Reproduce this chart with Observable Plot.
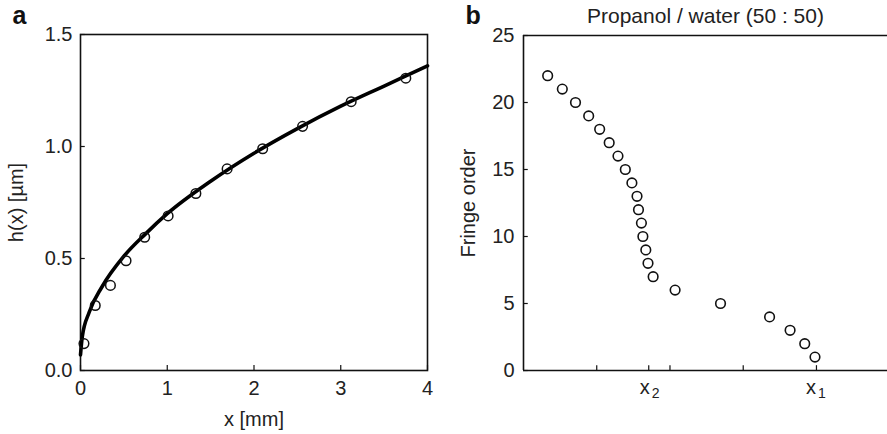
<!DOCTYPE html>
<html>
<head>
<meta charset="utf-8">
<script src="https://cdn.jsdelivr.net/npm/d3@7"></script>
<script src="https://cdn.jsdelivr.net/npm/@observablehq/plot@0.6"></script>
<style>
  html, body { margin: 0; padding: 0; background: #fff; }
  #wrap { position: relative; width: 887px; height: 434px; overflow: hidden; font-family: "Liberation Sans", Arial, sans-serif; }
  #pa, #pb { position: absolute; top: 0; }
  #pa { left: 0; }
  #pb { left: 443px; }
</style>
</head>
<body>
<div id="wrap">
  <div id="pa"></div>
  <div id="pb"></div>
</div>
<script>
// Panel a: measured film thickness h(x)
const aPointX = [0.04, 0.17, 0.345, 0.525, 0.74, 1.01, 1.33, 1.69, 2.10, 2.56, 3.12, 3.75];
const aPointY = [0.12, 0.29, 0.38, 0.49, 0.595, 0.69, 0.79, 0.90, 0.99, 1.09, 1.20, 1.305];
// Panel a: fitted curve
const aCurveX = [0, 0.02, 0.1, 0.25, 0.5, 0.75, 1, 1.5, 2, 2.5, 3, 3.5, 4];
const aCurveY = [0.07, 0.15, 0.26, 0.375, 0.51, 0.61, 0.70, 0.845, 0.97, 1.08, 1.18, 1.27, 1.36];
const aXTicks = [0, 1, 2, 3, 4];
const aYTicks = [0, 0.5, 1.0, 1.5];
const aYTickLabels = ["0.0", "0.5", "1.0", "1.5"];

// Panel b: fringe order vs position
const bFringe = [22, 21, 20, 19, 18, 17, 16, 15, 14, 13, 12, 11, 10, 9, 8, 7, 6, 5, 4, 3, 2, 1];
const bPos = [0.33, 0.53, 0.71, 0.89, 1.04, 1.17, 1.29, 1.39, 1.48, 1.55, 1.57, 1.61, 1.63, 1.67, 1.70, 1.77, 2.07, 2.69, 3.36, 3.64, 3.84, 3.98];
const bXTicks = [1, 1.71, 2, 3, 4];
const bXLabelPos = [1.71, 3.98];
const bXLabelBase = ["x", "x"];
const bXLabelSub = ["2", "1"];
const bYTicks = [0, 5, 10, 15, 20, 25];

const ptsA = aPointX.map((x, i) => ({x, y: aPointY[i]}));
const curveA = aCurveX.map((x, i) => ({x, y: aCurveY[i]}));
const ptsB = bPos.map((x, i) => ({x, y: bFringe[i]}));

const font = "'Liberation Sans', Arial, sans-serif";
const tickColor = "#222";
const fs = 20;

const plotA = Plot.plot({
  width: 443, height: 434,
  marginLeft: 80, marginRight: 16, marginTop: 34, marginBottom: 64,
  style: {fontFamily: font, fontSize: fs + "px", color: tickColor, background: "white", overflow: "visible"},
  x: {domain: [0, 4]},
  y: {domain: [0, 1.5]},
  marks: [
    Plot.frame({stroke: "#111", strokeWidth: 1.6}),
    Plot.axisX(aXTicks, {tickSize: 0, tickPadding: 10, label: "x [mm]", labelAnchor: "center", labelOffset: 55, labelArrow: "none", fill: tickColor}),
    Plot.axisY(aYTicks, {tickSize: 0, tickPadding: 8, tickFormat: (d, i) => aYTickLabels[i], label: "h(x) [µm]", labelAnchor: "center", labelOffset: 72, labelArrow: "none", fill: tickColor}),
    Plot.ruleX(aXTicks, {x: d => d, y1: 0, y2: 0.022, stroke: "#111", strokeWidth: 1.2}),
    Plot.ruleY(aYTicks, {y: d => d, x1: 0, x2: 0.055, stroke: "#111", strokeWidth: 1.2}),
    Plot.line(curveA, {x: "x", y: "y", curve: "monotone-x", stroke: "#000", strokeWidth: 3.6}),
    Plot.dot(ptsA, {x: "x", y: "y", r: 4.8, stroke: "#111", strokeWidth: 1.5, fill: "none"}),
    Plot.text(["a"], {frameAnchor: "top-left", textAnchor: "start", lineAnchor: "bottom", dx: -68, dy: -11, text: d => d, fontWeight: "bold", fontSize: 25, fill: "#111"})
  ]
});
document.getElementById("pa").appendChild(plotA);

const plotB = Plot.plot({
  width: 444, height: 434,
  marginLeft: 80, marginRight: 0, marginTop: 35, marginBottom: 64,
  style: {fontFamily: font, fontSize: fs + "px", color: tickColor, background: "white", overflow: "visible"},
  x: {domain: [0, 4.97], axis: null},
  y: {domain: [0, 25]},
  marks: [
    Plot.ruleY([0, 25], {stroke: "#111", strokeWidth: 1.6}),
    Plot.ruleX([0], {stroke: "#111", strokeWidth: 1.6}),
    Plot.text(bXLabelBase, {x: (d, i) => bXLabelPos[i], y: 0, text: d => d, dx: -4, dy: 17, lineAnchor: "middle", fill: tickColor, fontSize: fs}),
    Plot.text(bXLabelSub, {x: (d, i) => bXLabelPos[i], y: 0, text: d => d, dx: 7, dy: 23, lineAnchor: "middle", fill: tickColor, fontSize: 14}),
    Plot.axisY(bYTicks, {tickSize: 0, tickPadding: 9, label: "Fringe order", labelAnchor: "center", labelOffset: 63, labelArrow: "none", fill: tickColor}),
    Plot.ruleX(bXTicks, {x: d => d, y1: 0, y2: 0.36, stroke: "#111", strokeWidth: 1.2}),
    Plot.ruleY(bYTicks, {y: d => d, x1: 0, x2: 0.065, stroke: "#111", strokeWidth: 1.2}),
    Plot.dot(ptsB, {x: "x", y: "y", r: 4.8, stroke: "#111", strokeWidth: 1.6, fill: "none"}),
    Plot.text(["Propanol / water (50 : 50)"], {frameAnchor: "top", dy: -19, text: d => d, fill: tickColor, fontSize: 21, lineAnchor: "middle"}),
    Plot.text(["b"], {frameAnchor: "top-left", textAnchor: "start", lineAnchor: "bottom", dx: -58, dy: -12, text: d => d, fontWeight: "bold", fontSize: 25, fill: "#111"})
  ]
});
document.getElementById("pb").appendChild(plotB);
</script>
</body>
</html>
